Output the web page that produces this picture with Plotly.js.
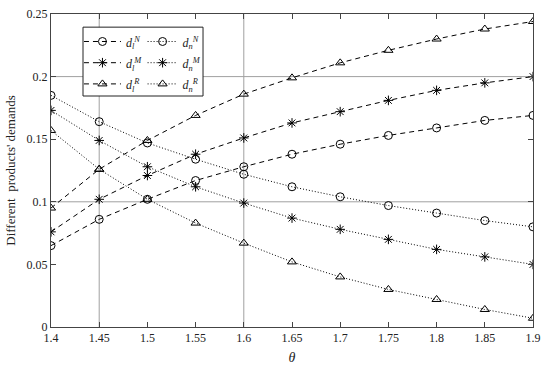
<!DOCTYPE html>
<html>
<head>
<meta charset="utf-8">
<script src="https://cdn.plot.ly/plotly-3.0.1.min.js"></script>
<style>html,body{margin:0;padding:0;background:#fff;}#chart{width:550px;height:367px;}</style>
</head>
<body>
<div id="chart"></div>
<script>
var theta = [1.4, 1.45, 1.5, 1.55, 1.6, 1.65, 1.7, 1.75, 1.8, 1.85, 1.9];
var dlN = [0.065, 0.086, 0.102, 0.117, 0.128, 0.138, 0.146, 0.153, 0.159, 0.165, 0.169];
var dlM = [0.076, 0.102, 0.121, 0.138, 0.151, 0.163, 0.172, 0.181, 0.189, 0.195, 0.200];
var dlR = [0.095, 0.126, 0.149, 0.169, 0.186, 0.199, 0.211, 0.221, 0.230, 0.238, 0.244];
var dnN = [0.185, 0.164, 0.147, 0.134, 0.122, 0.112, 0.104, 0.097, 0.091, 0.085, 0.080];
var dnM = [0.173, 0.149, 0.128, 0.112, 0.099, 0.087, 0.078, 0.070, 0.062, 0.056, 0.050];
var dnR = [0.157, 0.126, 0.102, 0.083, 0.067, 0.052, 0.040, 0.030, 0.022, 0.014, 0.007];
var xTickVals = [1.4, 1.45, 1.5, 1.55, 1.6, 1.65, 1.7, 1.75, 1.8, 1.85, 1.9];
var xTickText = ['1.4', '1.45', '1.5', '1.55', '1.6', '1.65', '1.7', '1.75', '1.8', '1.85', '1.9'];
var yTickVals = [0, 0.05, 0.1, 0.15, 0.2, 0.25];
var yTickText = ['0', '0.05', '0.1', '0.15', '0.2', '0.25'];
var xGrid = [1.45, 1.6];
var yGrid = [0.1, 0.2];

var FONT = '"Liberation Serif", serif';
function lbl(sub, sup) {
  return '<span style="font-size:12px"><i>d</i><sub><i>' + sub + '</i></sub><sup><i>' + sup + '</i></sup></span>';
}
function tr(y, name, sym, dash, leg) {
  return {
    x: theta, y: y, name: name, type: 'scatter', mode: 'lines+markers',
    line: {color: '#000', width: 1, dash: dash},
    marker: {symbol: sym, size: 8, color: '#000', line: {color: '#000', width: 1}},
    legend: leg
  };
}
var data = [
  tr(dlN, lbl('l', 'N'), 'circle-open', '5px,4px', 'legend'),
  tr(dlM, lbl('l', 'M'), 'asterisk-open', '5px,4px', 'legend'),
  tr(dlR, lbl('l', 'R'), 'triangle-up-open', '5px,4px', 'legend'),
  tr(dnN, lbl('n', 'N'), 'circle-open', '1px,2px', 'legend2'),
  tr(dnM, lbl('n', 'M'), 'asterisk-open', '1px,2px', 'legend2'),
  tr(dnR, lbl('n', 'R'), 'triangle-up-open', '1px,2px', 'legend2')
];

var shapes = [];
xGrid.forEach(function(v){ shapes.push({type:'line', xref:'x', yref:'paper', x0:v, x1:v, y0:0, y1:1, line:{color:'#a0a0a0', width:1}, layer:'below'}); });
yGrid.forEach(function(v){ shapes.push({type:'line', xref:'paper', yref:'y', x0:0, x1:1, y0:v, y1:v, line:{color:'#a0a0a0', width:1}, layer:'below'}); });
shapes.push({type:'rect', xref:'paper', yref:'paper', x0:0.0664, x1:0.3154, y0:0.738, y1:0.958, fillcolor:'#fff', line:{color:'#222', width:1}, layer:'above'});

var axisCommon = {
  showgrid: false, zeroline: false, showline: true, linecolor: '#444', linewidth: 1,
  mirror: 'ticks', ticks: 'inside', ticklen: 5, tickcolor: '#444',
  tickfont: {family: FONT, size: 12, color: '#222'}
};
var layout = {
  width: 550, height: 367,
  margin: {l: 51, r: 17, t: 14, b: 40},
  paper_bgcolor: '#fff', plot_bgcolor: '#fff',
  font: {family: FONT, color: '#222'},
  xaxis: Object.assign({}, axisCommon, {
    range: [1.4, 1.9], tickvals: xTickVals, ticktext: xTickText,
    title: {text: '<i>θ</i>', font: {family: FONT, size: 14, color: '#222'}, standoff: 7}
  }),
  yaxis: Object.assign({}, axisCommon, {
    range: [0, 0.25], tickvals: yTickVals, ticktext: yTickText,
    title: {text: 'Different  products\' demands', font: {family: FONT, size: 13, color: '#222'}, standoff: 8}
  }),
  shapes: shapes,
  legend: {x: 0.058, y: 0.962, xanchor: 'left', yanchor: 'top', bgcolor: 'rgba(0,0,0,0)', borderwidth: 0,
           itemwidth: 37, font: {family: FONT, size: 14, color: '#222'}, tracegroupgap: 0},
  legend2: {x: 0.19, y: 0.962, xanchor: 'left', yanchor: 'top', bgcolor: 'rgba(0,0,0,0)', borderwidth: 0,
           itemwidth: 30, font: {family: FONT, size: 14, color: '#222'}, tracegroupgap: 0},
  showlegend: true
};
Plotly.newPlot('chart', data, layout, {staticPlot: true});
</script>
</body>
</html>
